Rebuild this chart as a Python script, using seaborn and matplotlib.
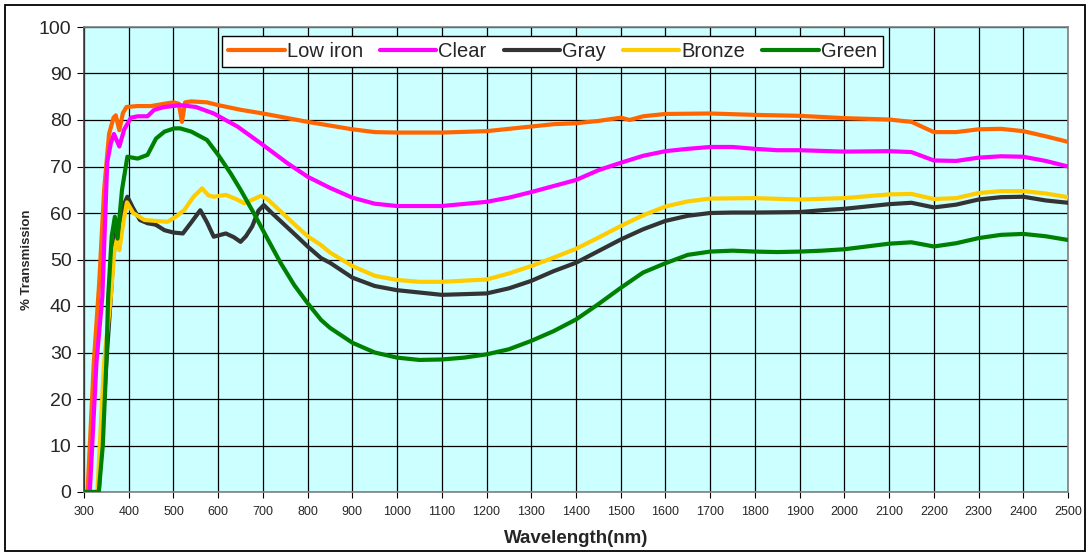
import matplotlib
matplotlib.use("Agg")
import matplotlib.pyplot as plt
from matplotlib.patches import Rectangle
import seaborn as sns
import pandas as pd
import numpy as np

# values
series_names = ["Low iron", "Clear", "Gray", "Bronze", "Green"]
colors = ["#FF6600", "#FF00FF", "#333333", "#FFCC00", "#008000"]

low_iron_wl = [300, 308, 322, 334, 345, 356, 366, 371, 379, 387, 395, 420, 450, 480, 500, 512, 519,
               526, 540, 575, 600, 650, 700, 750, 800, 850, 900, 950, 1000, 1100, 1200, 1300, 1350,
               1400, 1450, 1500, 1520, 1550, 1600, 1700, 1800, 1900, 2000, 2100, 2150, 2200, 2250,
               2300, 2350, 2400, 2450, 2500]
low_iron_t = [0, 0, 28, 45, 65, 77, 80.5, 81, 77.8, 81.5, 82.8, 83, 83, 83.5, 83.8, 83.5, 79.6,
              83.8, 84, 83.8, 83.2, 82.2, 81.4, 80.5, 79.6, 78.8, 78, 77.4, 77.3, 77.3, 77.6, 78.6, 79.1,
              79.3, 79.8, 80.5, 80, 80.8, 81.3, 81.4, 81.1, 80.9, 80.4, 80.1, 79.6, 77.4, 77.4,
              78, 78.1, 77.6, 76.5, 75.3]

clear_wl = [300, 313, 328, 341, 352, 360, 367, 379, 390, 405, 420, 442, 457, 480, 500, 515, 550,
            590, 643, 695, 755, 800, 850, 900, 950, 1000, 1100, 1200, 1250, 1300, 1350, 1400, 1450,
            1500, 1550, 1600, 1650, 1700, 1750, 1800, 1850, 1900, 2000, 2100, 2150, 2200, 2250,
            2300, 2350, 2400, 2450, 2500]
clear_t = [0, 0, 28, 42, 71, 75, 77, 74.3, 78, 80.5, 80.8, 80.8, 82.2, 82.8, 83, 83.2, 82.8,
           81.4, 78.6, 75, 70.7, 67.8, 65.4, 63.3, 62, 61.5, 61.5, 62.4, 63.3, 64.5, 65.8, 67.1, 69.2,
           70.8, 72.3, 73.3, 73.8, 74.2, 74.2, 73.8, 73.5, 73.5, 73.2, 73.3, 73.1, 71.3, 71.2,
           71.9, 72.2, 72.1, 71.2, 70]

gray_wl = [300, 333, 350, 360, 365, 372, 378, 390, 397, 410, 425, 442, 460, 480, 500, 521, 540,
           560, 575, 590, 617, 635, 650, 662, 676, 690, 702, 720, 777, 800, 830, 850, 900, 950,
           1000, 1100, 1200, 1250, 1300, 1350, 1400, 1450, 1500, 1550, 1600, 1650, 1700, 1750,
           1800, 1900, 1950, 2000, 2050, 2100, 2150, 2200, 2250, 2300, 2350, 2400, 2450, 2500]
gray_t = [0, 0, 28, 42, 50, 56, 55, 62, 63.5, 61, 58.5, 57.8, 57.5, 56.3, 55.8, 55.6, 58,
          60.6, 58, 54.9, 55.6, 54.8, 53.8, 55, 57.1, 60.5, 61.7, 60, 54.9, 52.8, 50.3, 49.3, 46.1, 44.3,
          43.4, 42.4, 42.7, 43.8, 45.4, 47.5, 49.3, 51.8, 54.3, 56.5, 58.3, 59.4, 60, 60.1,
          60.1, 60.2, 60.6, 60.9, 61.4, 61.9, 62.2, 61.2, 61.8, 62.9, 63.4, 63.5, 62.7, 62.2]

bronze_wl = [300, 330, 345, 360, 368, 374, 379, 388, 396, 410, 435, 460, 487, 505, 524, 545, 564,
             578, 590, 617, 640, 658, 680, 695, 710, 760, 800, 830, 850, 900, 950, 1000, 1050,
             1100, 1200, 1250, 1300, 1350, 1400, 1450, 1500, 1550, 1600, 1650, 1700, 1800, 1900,
             2000, 2050, 2100, 2150, 2200, 2250, 2300, 2350, 2400, 2450, 2500]
bronze_t = [0, 0, 28, 42, 52, 54.5, 52, 58, 62.3, 60, 58.5, 58.3, 58.1, 59.2, 60.6, 63.5, 65.3,
            63.8, 63.5, 63.9, 63, 62.1, 63, 63.7, 63, 58.5, 55, 53.1, 51.5, 48.6, 46.5, 45.6, 45.2,
            45.2, 45.7, 47, 48.6, 50.4, 52.3, 54.7, 57.2, 59.5, 61.4, 62.5, 63.1, 63.2, 62.9,
            63.2, 63.6, 64, 64.1, 63, 63.2, 64.3, 64.7, 64.7, 64.2, 63.4]

green_wl = [300, 333, 342, 350, 354, 362, 369, 375, 385, 397, 420, 442, 461, 480, 502, 515, 540,
            575, 600, 628, 650, 680, 710, 740, 770, 800, 830, 850, 900, 950, 1000, 1050, 1100,
            1150, 1200, 1250, 1300, 1350, 1400, 1450, 1500, 1550, 1600, 1650, 1700, 1750, 1800,
            1850, 1900, 1950, 2000, 2050, 2100, 2150, 2200, 2250, 2300, 2350, 2400, 2450, 2500]
green_t = [0, 0, 10, 28, 42, 55, 59.2, 54.5, 65, 72.1, 71.7, 72.5, 76, 77.5, 78.2, 78.2, 77.5,
           75.7, 72.5, 68.5, 65, 59.9, 54.5, 49.2, 44.5, 40.6, 37, 35.3, 32.1, 30, 28.9, 28.4, 28.5,
           28.9, 29.6, 30.7, 32.5, 34.6, 37.1, 40.4, 43.9, 47.2, 49.2, 51, 51.7, 51.9, 51.7,
           51.6, 51.7, 51.9, 52.2, 52.8, 53.4, 53.7, 52.8, 53.5, 54.6, 55.3, 55.5, 55, 54.2]

wl_lists = [low_iron_wl, clear_wl, gray_wl, bronze_wl, green_wl]
t_lists = [low_iron_t, clear_t, gray_t, bronze_t, green_t]

frames = []
for name, wl, t in zip(series_names, wl_lists, t_lists):
    frames.append(pd.DataFrame({"wl": wl, "t": t, "glass": name}))
df = pd.concat(frames, ignore_index=True)

sns.set_style("white")
plt.rcParams['font.family'] = ['Liberation Sans', 'DejaVu Sans']

fig = plt.figure(figsize=(10.9, 5.55), dpi=100)
ax = fig.add_axes([84 / 1090, 63 / 555, 984 / 1090, 465 / 555])
ax.set_facecolor("#CCFFFF")

sns.lineplot(data=df, x="wl", y="t", hue="glass", hue_order=series_names,
             palette=dict(zip(series_names, colors)), lw=3, legend=False,
             estimator=None, sort=False, ax=ax, zorder=3)
for ln in ax.lines:
    ln.set_solid_joinstyle("round")
    ln.set_solid_capstyle("round")

ax.set_xlim(300, 2500)
ax.set_ylim(0, 100)
ax.set_xticks(np.arange(300, 2501, 100))
ax.set_yticks(np.arange(0, 101, 10))
ax.grid(True, color="black", lw=0.9)
ax.set_axisbelow(True)
ax.tick_params(axis="y", labelsize=14, direction="out", length=5, left=True, color="black", pad=4)
ax.tick_params(axis="x", labelsize=9, direction="out", length=4, bottom=True, color="black", pad=6)
for s in ax.spines.values():
    s.set_color("#808080")
    s.set_linewidth(1.2)
ax.spines["left"].set_color("#404040")

ax.set_xlabel("Wavelength(nm)", fontsize=13.5, fontweight="bold", labelpad=9)
ax.set_ylabel("% Transmission", fontsize=9.5, fontweight="bold", labelpad=4)

leg = ax.legend(ax.lines, series_names, loc="upper center", bbox_to_anchor=(0.476, 0.99),
                ncol=5, fontsize=14.5, frameon=True, fancybox=False, handlelength=2.8,
                handletextpad=0.1, columnspacing=0.85, borderpad=0.3, borderaxespad=0.2)
leg.get_frame().set_edgecolor("black")
leg.get_frame().set_linewidth(1.0)
leg.get_frame().set_facecolor("white")
leg.get_frame().set_alpha(1)

fig.patches.append(Rectangle((5 / 1090, 4 / 555), 1080 / 1090, 546 / 555, transform=fig.transFigure,
                             fill=False, edgecolor="black", lw=1.3))

fig.savefig("out.png", dpi=100)
